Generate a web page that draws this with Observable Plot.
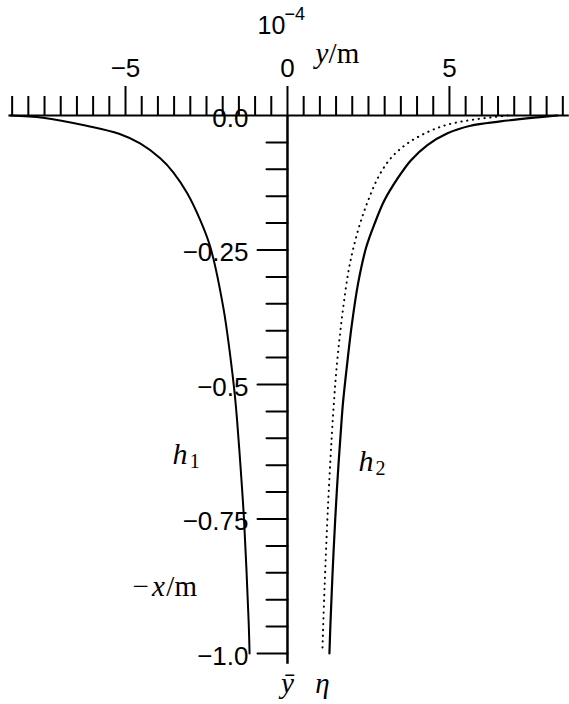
<!DOCTYPE html>
<html>
<head>
<meta charset="utf-8">
<style>
  body { margin: 0; background: #fff; }
  #chart svg { display: block; }
</style>
</head>
<body>
<div id="chart"></div>
<script src="https://cdn.jsdelivr.net/npm/d3@7"></script>
<script src="https://cdn.jsdelivr.net/npm/@observablehq/plot@0.6"></script>
<script>
// Profiles: depth below the surface (−x, m) against lateral offset (y, ×10⁻⁴ m)
const h1Depth  = [0, -0.004, -0.019, -0.034, -0.052, -0.080, -0.106, -0.145, -0.195, -0.245, -0.357, -0.450, -0.517, -0.567, -0.678, -0.753, -0.939, -1.0];
const h1Offset = [-8.55, -7.55, -6.2, -5.2, -4.55, -3.92, -3.52, -3.09, -2.69, -2.38, -1.98, -1.76, -1.63, -1.555, -1.42, -1.34, -1.20, -1.17];

const h2Depth  = [0, -0.004, -0.011, -0.019, -0.033, -0.055, -0.084, -0.117, -0.158, -0.201, -0.245, -0.312, -0.387, -0.468, -0.530, -0.567, -0.691, -0.814, -0.939, -1.0];
const h2Offset = [8.33, 7.62, 6.57, 5.65, 4.94, 4.32, 3.80, 3.40, 2.99, 2.69, 2.43, 2.18, 1.99, 1.83, 1.72, 1.67, 1.53, 1.42, 1.33, 1.295];

const etaDepth  = [0, -0.0074, -0.017, -0.031, -0.052, -0.080, -0.115, -0.158, -0.201, -0.250, -0.294, -0.357, -0.418, -0.480, -0.524, -0.573, -0.721, -0.877, -0.99];
const etaOffset = [6.8, 5.77, 4.94, 4.32, 3.70, 3.18, 2.80, 2.49, 2.24, 2.02, 1.87, 1.72, 1.60, 1.50, 1.445, 1.39, 1.255, 1.145, 1.08];

// Axis ticks and labels
const xMajorTicks = [-5, 0, 5];
const xMinorTicks = d3.range(-17, 18).map(i => i / 2).filter(v => v % 5 !== 0);
const yMajorTicks = [0, -0.25, -0.5, -0.75, -1.0];
const yTickLabels = ["0.0", "\u22120.25", "\u22120.5", "\u22120.75", "\u22121.0"];
const yMinorTicks = d3.range(1, 20).filter(i => i % 5 !== 0).map(i => -i * 0.05);

const toRows = (depth, offset) => depth.map((d, i) => ({depth: d, offset: offset[i]}));
const h1 = toRows(h1Depth, h1Offset);
const h2 = toRows(h2Depth, h2Offset);
const eta = toRows(etaDepth, etaOffset);

const SANS = "Liberation Sans, Arial, Helvetica, sans-serif";
const SERIF = "Liberation Serif, Times New Roman, serif";

// A plain line segment drawn outward from the anchor, used for the depth-axis ticks
const tickShape = {draw(context, l) { context.moveTo(0, 0); context.lineTo(0, -l); }};

const label = (text, x, y, opts = {}) =>
  Plot.text([text], {
    x, y, text: d => d,
    textAnchor: "start", lineAnchor: "bottom",
    fontFamily: SERIF, fontSize: 29, fill: "black",
    ...opts
  });

const chart = Plot.plot({
  width: 569,
  height: 704,
  marginTop: 115,
  marginBottom: 51,
  marginLeft: 8.4,
  marginRight: 0.2,
  style: {background: "white", color: "black", fontFamily: SANS},
  x: {domain: [-8.6, 8.7]},
  y: {domain: [-1, 0], axis: null},
  marks: [
    // top axis: minor and major ticks pointing up
    Plot.axisX(xMinorTicks, {anchor: "top", tickSize: 20, strokeWidth: 2, tickFormat: () => "", label: null}),
    Plot.axisX(xMajorTicks, {anchor: "top", tickSize: 30, tickPadding: 9, strokeWidth: 2, fontSize: 26, fontFamily: SANS, label: null}),
    Plot.ruleY([0], {stroke: "black", strokeWidth: 2}),

    // vertical axis at y = 0 with ticks pointing left
    Plot.ruleX([0], {y1: 0, y2: -1.02, stroke: "black", strokeWidth: 2.5}),
    Plot.vector(yMinorTicks, {x: 0, y: d => d, length: 21, rotate: -90, anchor: "start", shape: tickShape, stroke: "black", strokeWidth: 2}),
    Plot.vector(yMajorTicks.slice(1), {x: 0, y: d => d, length: 30, rotate: -90, anchor: "start", shape: tickShape, stroke: "black", strokeWidth: 2}),
    Plot.text(yMajorTicks, {x: 0, y: d => d, text: (d, i) => yTickLabels[i], textAnchor: "end", lineAnchor: "middle", dx: -39, dy: 3, fontSize: 26, fontFamily: SANS, fill: "black"}),

    // profiles
    Plot.line(h1, {x: "offset", y: "depth", curve: "catmull-rom", stroke: "black", strokeWidth: 2}),
    Plot.line(h2, {x: "offset", y: "depth", curve: "catmull-rom", stroke: "black", strokeWidth: 2.2}),
    Plot.line(eta, {x: "offset", y: "depth", curve: "catmull-rom", stroke: "black", strokeWidth: 2, strokeDasharray: "0.3,5.5", strokeLinecap: "round"}),

    // scale factor and axis titles
    label("10", -0.926, 0.152, {fontFamily: SANS, fontSize: 25}),
    label("\u22124", -0.09, 0.178, {fontFamily: SANS, fontSize: 18}),
    label("y", 0.863, 0.097, {fontStyle: "italic"}),
    label("/m", 1.27, 0.097),
    label("\u2212", -4.784, -0.894),
    label("x", -4.18, -0.894, {fontStyle: "italic"}),
    label("/m", -3.74, -0.894),

    // curve names
    label("h", -3.549, -0.647, {fontStyle: "italic", fontSize: 30}),
    label("1", -3.02, -0.656, {fontSize: 20}),
    label("h", 2.191, -0.660, {fontStyle: "italic", fontSize: 30}),
    label("2", 2.72, -0.669, {fontSize: 20}),
    label("\u0233", 0, -1.0725, {fontStyle: "italic", textAnchor: "middle"}),
    label("\u03b7", 1.08, -1.0725, {fontStyle: "italic", textAnchor: "middle"})
  ]
});

document.getElementById("chart").append(chart);
</script>
</body>
</html>
